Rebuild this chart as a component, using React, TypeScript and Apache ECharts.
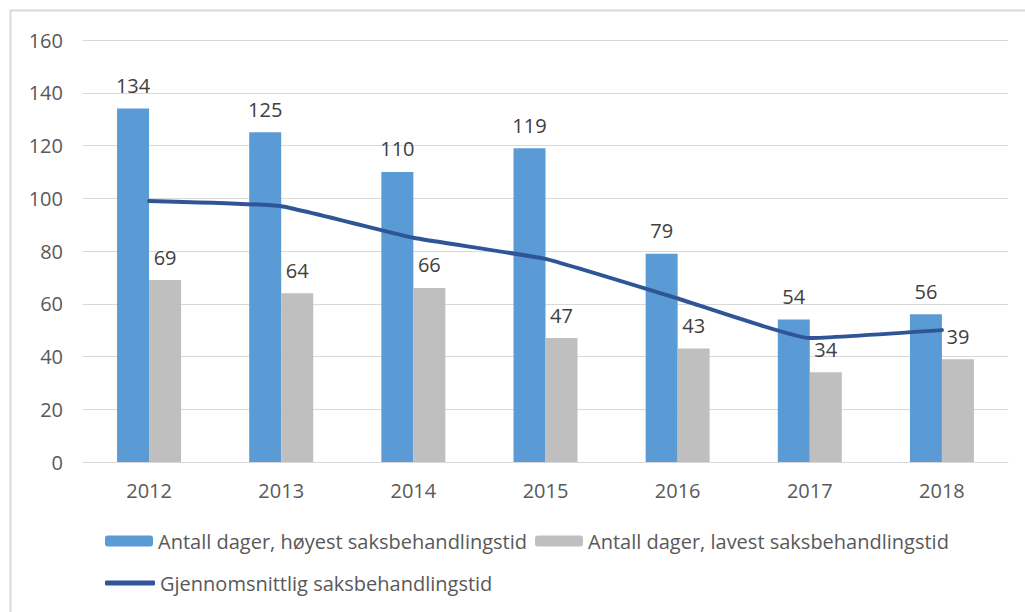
import React, { useEffect, useRef } from "react";
import * as echarts from "echarts";

const years = ["2012", "2013", "2014", "2015", "2016", "2017", "2018"];
const highest = [134, 125, 110, 119, 79, 54, 56];
const lowest = [69, 64, 66, 47, 43, 34, 39];
const average = [99, 97, 85, 77, 62, 47, 50];

const nameHigh = "Antall dager, høyest saksbehandlingstid";
const nameLow = "Antall dager, lavest saksbehandlingstid";
const nameAvg = "Gjennomsnittlig saksbehandlingstid";

const FONT = "'Open Sans', 'Noto Sans', sans-serif";

export default function App() {
  const ref = useRef<HTMLDivElement>(null);
  useEffect(() => {
    if (!ref.current) return;
    const chart = echarts.init(ref.current, undefined, { renderer: "svg" });
    chart.setOption({
      animation: false,
      backgroundColor: "#ffffff",
      textStyle: { fontFamily: FONT },
      graphic: [
        {
          type: "rect",
          shape: { x: 10.5, y: 10.5, width: 1040, height: 640 },
          style: { fill: "none", stroke: "#d9d9d9", lineWidth: 2 },
          silent: true,
        },
      ],
      grid: { left: 83, right: 17, top: 40, bottom: 150, containLabel: false },
      legend: [
        {
          data: [nameHigh, nameLow],
          left: 100,
          top: 526,
          padding: 5,
          itemWidth: 48,
          itemHeight: 11,
          itemGap: 8,
          textStyle: { fontFamily: FONT, fontSize: 20, color: "#595959" },
        },
        {
          data: [{ name: nameAvg, icon: "roundRect" }],
          left: 100,
          top: 568,
          padding: 5,
          itemWidth: 50,
          itemHeight: 5,
          textStyle: { fontFamily: FONT, fontSize: 20, color: "#595959" },
        },
      ],
      xAxis: {
        type: "category",
        data: years,
        axisLine: { lineStyle: { color: "#d9d9d9", width: 1 } },
        axisTick: { show: false },
        axisLabel: { color: "#595959", fontSize: 20, margin: 18, fontFamily: FONT },
      },
      yAxis: {
        type: "value",
        min: 0,
        max: 160,
        interval: 20,
        axisLine: { show: false },
        axisTick: { show: false },
        axisLabel: { color: "#595959", fontSize: 20, margin: 20, fontFamily: FONT },
        splitLine: { lineStyle: { color: "#d9d9d9", width: 1 } },
      },
      series: [
        {
          name: nameHigh,
          type: "bar",
          data: highest,
          barWidth: 32,
          barGap: "0%",
          itemStyle: { color: "#5b9bd5" },
          label: {
            show: true,
            position: "top",
            distance: 13,
            color: "#404040",
            fontSize: 20,
            fontFamily: FONT,
          },
        },
        {
          name: nameLow,
          type: "bar",
          data: lowest,
          barWidth: 32,
          barGap: "0%",
          itemStyle: { color: "#bfbfbf" },
          label: {
            show: true,
            position: "top",
            distance: 13,
            color: "#404040",
            fontSize: 20,
            fontFamily: FONT,
          },
        },
        {
          name: nameAvg,
          type: "line",
          data: average,
          symbol: "none",
          smooth: 0.12,
          lineStyle: { color: "#2f5597", width: 4, cap: "round" },
          itemStyle: { color: "#2f5597" },
          z: 5,
        },
      ],
    });
    return () => chart.dispose();
  }, []);
  return (
    <div
      ref={ref}
      style={{ position: "absolute", left: 0, top: 0, width: 1025, height: 612 }}
    />
  );
}
